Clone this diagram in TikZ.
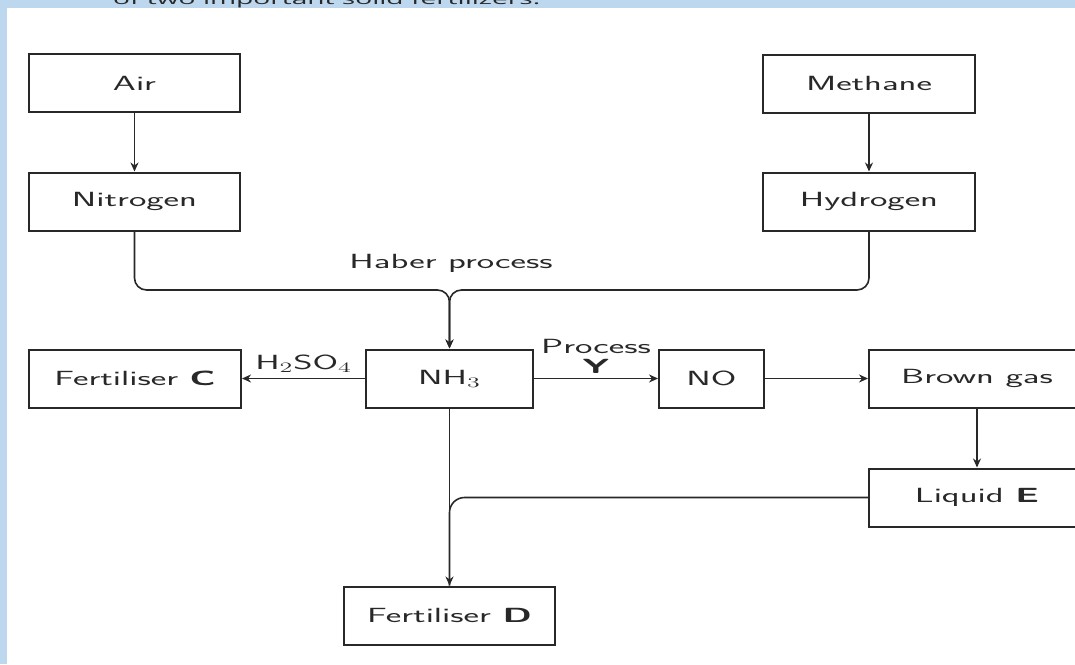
\documentclass[tikz,border=0pt]{standalone}
\usepackage{fontspec}
\usepackage{graphicx}
\newfontfamily\topfont{Open Sans}
\usetikzlibrary{arrows.meta}
\definecolor{edgeblue}{RGB}{189,215,238}
\definecolor{ink}{RGB}{40,40,40}
\newcommand{\sx}[1]{\scalebox{1.8}[1]{#1}}
\begin{document}
\begin{tikzpicture}[x=1pt,y=-1pt,
  box/.style={draw=ink, line width=2pt, minimum height=58pt, inner sep=0pt,
    font=\sffamily\fontsize{20.5}{24}\selectfont, text=ink},
  conn/.style={draw=ink, line width=1.6pt},
  arr/.style={conn, -{Stealth[length=9pt,width=8pt]}},
  lbl/.style={font=\sffamily\fontsize{20.5}{24}\selectfont, text=ink, inner sep=0pt}]
\useasboundingbox (0,0) rectangle (1075,664);
\clip (0,0) rectangle (1075,664);
\fill[white] (0,0) rectangle (1075,664);
\fill[edgeblue] (0,0) rectangle (1075,8);
\fill[edgeblue] (0,0) rectangle (7,664);
\node[anchor=base west, inner sep=0pt, text=ink] (toptext) at (113,4.5)
  {\resizebox{427pt}{11pt}{\topfont of two important solid fertilizers.}};

\node[box, minimum width=211pt] (air) at (134.5,83) {\sx{Air}};
\node[box, minimum width=211pt] (nitrogen) at (134.5,201.5) {\sx{Nitrogen}};
\node[box, minimum width=212pt] (methane) at (869,83.5) {\sx{Methane}};
\node[box, minimum width=212pt] (hydrogen) at (869,201.5) {\sx{Hydrogen}};
\node[box, minimum width=212pt] (fertc) at (135,378.5) {\sx{Fertiliser \textbf{C}}};
\node[box, minimum width=167pt] (nh3) at (449.5,378.5) {\sx{NH$_3$}};
\node[box, minimum width=105pt] (no) at (711.5,378.5) {\sx{NO}};
\node[box, minimum width=216pt] (brown) at (977,378.5) {\sx{Brown gas}};
\node[box, minimum width=216pt] (liquide) at (977,497.5) {\sx{Liquid \textbf{E}}};
\node[box, minimum width=211pt] (fertd) at (449.5,615.5) {\sx{Fertiliser \textbf{D}}};

\node[lbl] (haber) at (451,263) {\sx{Haber process}};

\draw[arr] (air) -- (nitrogen);
\draw[arr] (methane) -- (hydrogen);
\coordinate (hab) at (449.5,290);
\draw[arr, rounded corners=12pt] (nitrogen.south) |- (hab) -- (nh3.north);
\draw[arr, rounded corners=12pt] (hydrogen.south) |- (hab) -- (nh3.north);

\draw[arr] (nh3.west) -- (fertc.east)
  node[lbl, midway, above=5pt] (h2so4) {\sx{H$_2$SO$_4$}};
\draw[arr] (nh3.east) -- (no.west)
  node[lbl, midway, above=4pt, align=center] (procy) {\sx{Process}\\[-4pt]\sx{\textbf{Y}}};
\draw[arr] (no) -- (brown);
\draw[arr] (brown) -- (liquide);
\draw[arr] (nh3) -- (fertd);
\draw[conn, rounded corners=15pt] (liquide.west) -| (fertd.north);
\end{tikzpicture}
\end{document}
